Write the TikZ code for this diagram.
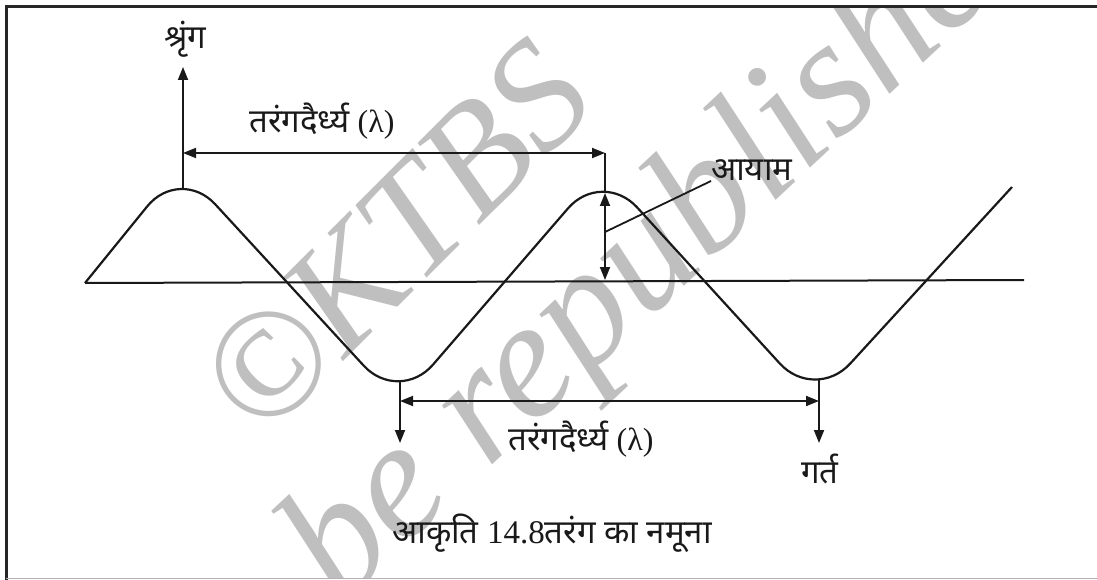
\documentclass[tikz,border=0pt]{standalone}
\usepackage{fontspec}
\setmainfont{Liberation Serif}
\newfontfamily\dev[Script=Devanagari]{Noto Sans}
\usetikzlibrary{arrows.meta}
\begin{document}
\begin{tikzpicture}[x=1pt,y=-1pt,
  wave/.style={line width=2.2pt, black!90, rounded corners=52pt},
  dim/.style={line width=1.8pt, black!90},
  tipend/.style={-{Triangle[length=13pt,width=10pt]}},
  bothends/.style={{Triangle[length=13pt,width=10pt]}-{Triangle[length=13pt,width=10pt]}},
  lbl/.style={font=\fontsize{33}{38}\selectfont, inner sep=0pt, text=black!90},
  captext/.style={font=\fontsize{33}{38}\selectfont, inner sep=0pt, text=black!90},
  wm/.style={text=black!25, font=\itshape\fontsize{155}{155}\selectfont, inner sep=0pt}]
\useasboundingbox (0,0) rectangle (1097,580);
% watermark
\begin{scope}
\clip (6,7) rectangle (1097,578);
\node[wm, rotate=45] (wm1) at (395,238) {©KTBS};
\node[wm, rotate=43, font=\itshape\fontsize{168}{168}\selectfont] (wm2) at (674,240) {be republished};
\end{scope}
% frame
\draw[line width=3pt, black!85] (6,580) -- (6,7) -- (1097,7);
\draw[line width=1pt, black!30] (6,578) -- (1097,578);
% axis
\coordinate (ax1) at (85,283);
\coordinate (ax2) at (1024,280);
\draw[line width=2pt, black!90] (ax1) -- (ax2);
% wave
\draw[wave] (85,283) -- (180,166) -- (399,404) -- (602,169) -- (815,402) -- (1012,187);
\coordinate (crest1) at (183,188);
\coordinate (trough1) at (400,381);
\coordinate (crest2) at (605,191);
\coordinate (trough2) at (819,380);
% crest arrow
\coordinate (top1) at (183,67);
\draw[dim,tipend] (crest1) -- (top1);
\node[lbl] (shringa) at (185,39) {\dev श्रृंग};
% top wavelength
\coordinate (wa) at (183,153);
\coordinate (wb) at (605,153);
\draw[dim] (crest2) -- (wb);
\draw[dim,bothends] (wa) -- (wb);
\node[lbl] (wl1) at (322,121) {{\dev तरंगदैर्ध्य} {\fontsize{32}{38}\selectfont(λ)}};
% amplitude
\coordinate (am1) at (605,193);
\coordinate (am2) at (605,280);
\coordinate (amL) at (605,232);
\draw[dim,bothends] (am1) -- (am2);
\node[lbl, anchor=base west] (aayam) at (711,181) {\dev आयाम};
\draw[dim] (amL) -- (aayam.base west);
% bottom wavelength
\coordinate (bt1) at (400,443);
\coordinate (bt2) at (819,443);
\draw[dim,tipend] (trough1) -- (bt1);
\draw[dim,tipend] (trough2) -- (bt2);
\coordinate (wc) at (400,401);
\coordinate (wd) at (819,401);
\draw[dim,bothends] (wc) -- (wd);
\node[lbl] (wl2) at (581,439) {{\dev तरंगदैर्ध्य} {\fontsize{32}{38}\selectfont(λ)}};
\node[lbl] (gart) at (820,469) {\dev गर्त};
% caption
\node[captext] (caption) at (552,533) {{\dev आकृति} 14.8{\dev तरंग का नमूना}};
\end{tikzpicture}
\end{document}
